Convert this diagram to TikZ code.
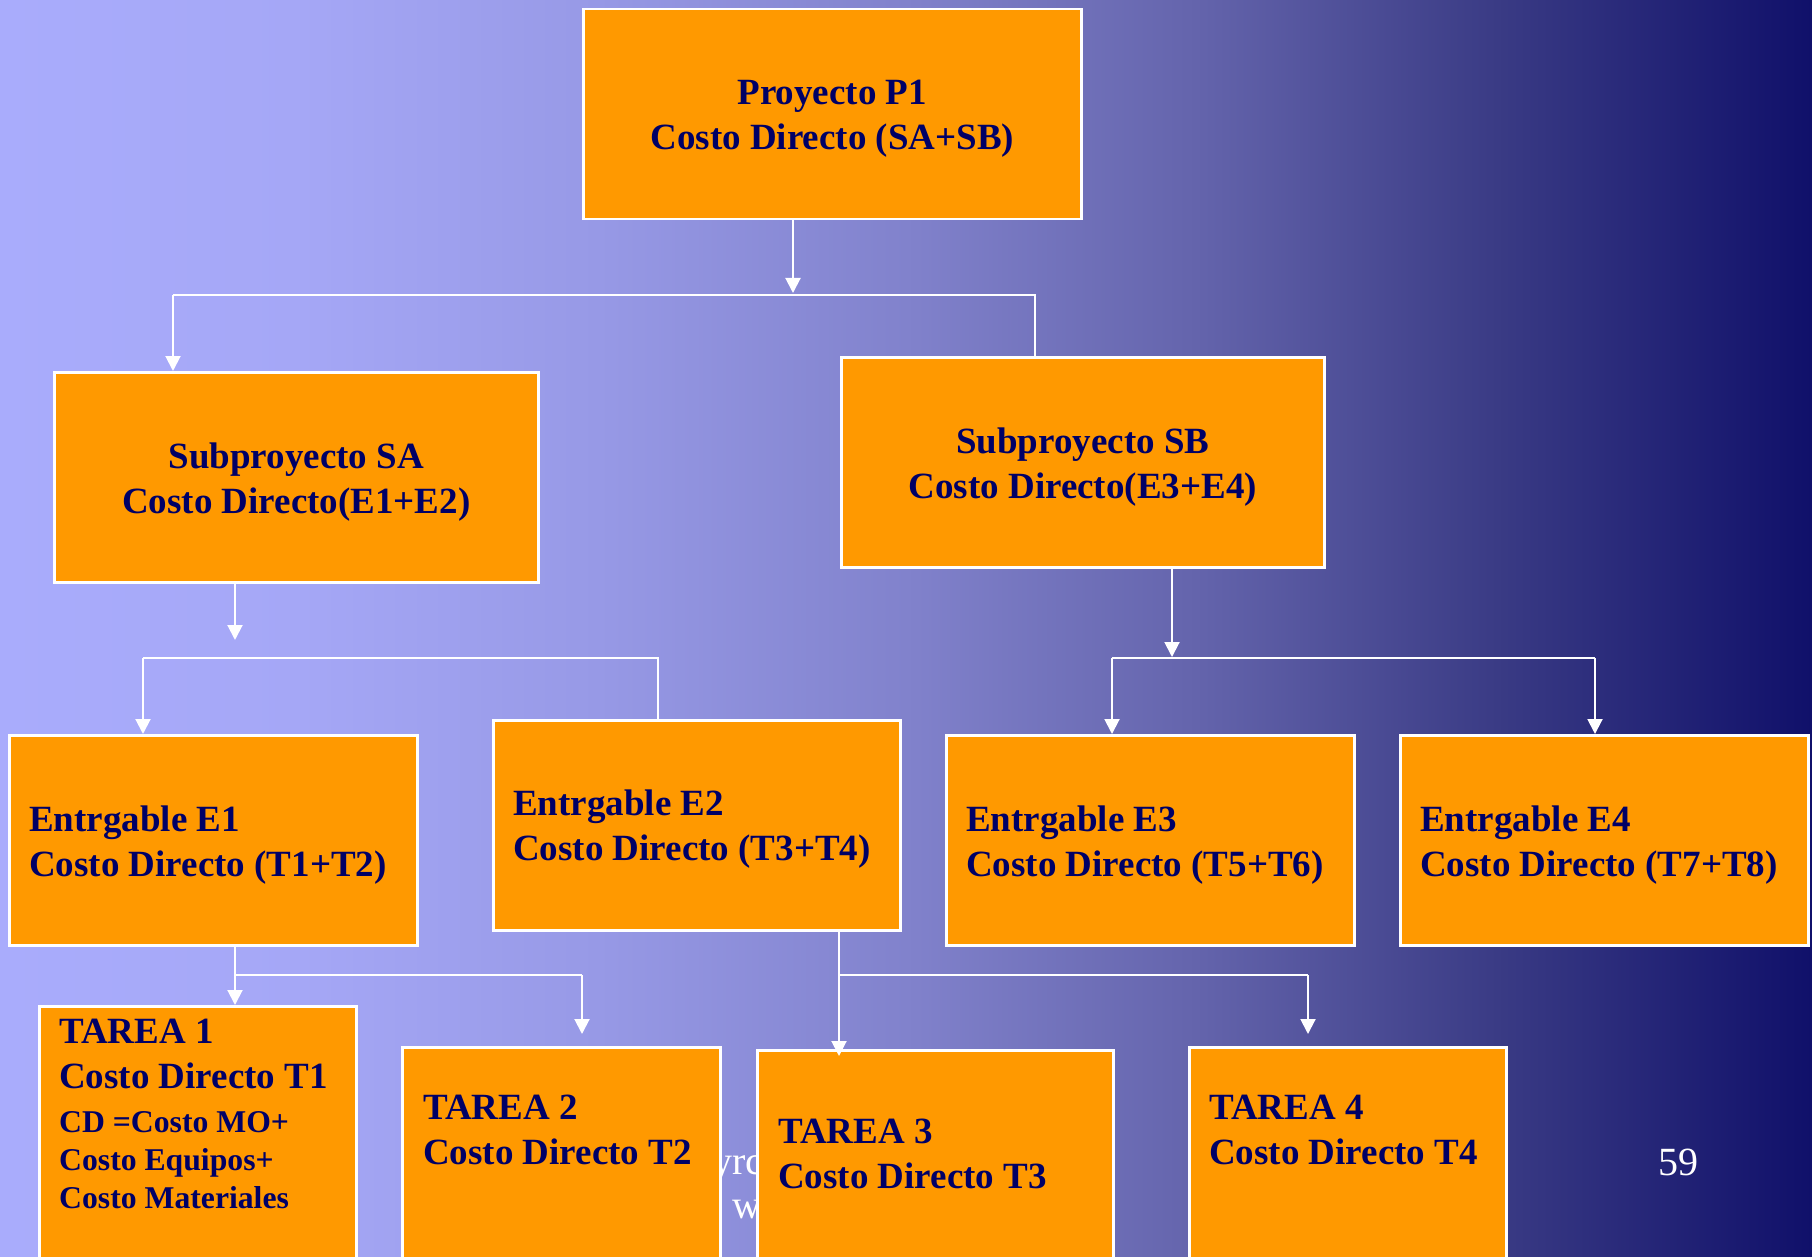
\documentclass[tikz,border=0pt]{standalone}
\usepackage{fontspec}
\setmainfont{Liberation Serif}
\usetikzlibrary{arrows.meta}

% palette
\definecolor{boxfill}{HTML}{FF9900}
\definecolor{ink}{HTML}{000066}
\definecolor{bgA}{HTML}{A9ACFC}
\definecolor{bgB}{HTML}{A5A7F6}
\definecolor{bgC}{HTML}{9799E6}
\definecolor{bgD}{HTML}{8182CC}
\definecolor{bgE}{HTML}{6464AC}
\definecolor{bgF}{HTML}{393A84}
\definecolor{bgG}{HTML}{10106A}

% a path is mapped onto the middle half (25bp--75bp) of a shading
\pgfdeclarehorizontalshading{slidebg}{100bp}{color(0bp)=(bgA); color(25bp)=(bgA); color(33.25bp)=(bgB); color(41.5bp)=(bgC); color(50bp)=(bgD); color(58bp)=(bgE); color(66.5bp)=(bgF); color(75bp)=(bgG); color(100bp)=(bgG)}

\newcommand\wbsbig{\fontsize{37}{45}\selectfont\bfseries}
\newcommand\wbssmall{\fontsize{31.7}{38}\selectfont\bfseries}

\tikzset{
  box/.style={draw=white, line width=2.5pt, fill=boxfill, anchor=north west,
    inner sep=0pt},
  tlabel/.style={anchor=north west, inner sep=0pt, text=ink, font=\wbsbig, align=left},
  clabel/.style={anchor=north, inner sep=0pt, text=ink, font=\wbsbig, align=center},
  foot/.style={inner sep=0pt, text=white, font=\fontsize{40}{48}\selectfont},
  wire/.style={draw=white, line width=2pt},
  tip/.style={-{Triangle[width=15pt,length=15pt]}},
}

\begin{document}
\begin{tikzpicture}[x=1pt,y=-1pt]
\useasboundingbox (0,0) rectangle (1812,1257);
\clip (0,0) rectangle (1812,1257);
\shade[shading=slidebg] (0,0) rectangle (1812,1257);

% footer text lying behind the task boxes
\node[foot, anchor=base west] (ftA) at (712,1174) {yrc};
\node[foot, anchor=base west] (ftB) at (732,1218) {w};
\node[foot] (pg) at (1678,1162) {59};

% boxes
\node[box, minimum width=498pt, minimum height=210pt] (p1) at (582,8) {};
\node[box, minimum width=484pt, minimum height=210pt] (sa) at (53,371) {};
\node[box, minimum width=483pt, minimum height=210pt] (sb) at (840,356) {};
\node[box, minimum width=408pt, minimum height=210pt] (e1) at (8,734) {};
\node[box, minimum width=407pt, minimum height=210pt] (e2) at (492,719) {};
\node[box, minimum width=408pt, minimum height=210pt] (e3) at (945,734) {};
\node[box, minimum width=408pt, minimum height=210pt] (e4) at (1399,734) {};
\node[box, minimum width=317pt, minimum height=280pt] (t1) at (38,1005) {};
\node[box, minimum width=318pt, minimum height=240pt] (t2) at (401,1046) {};
\node[box, minimum width=356pt, minimum height=240pt] (t3) at (756,1049) {};
\node[box, minimum width=317pt, minimum height=240pt] (t4) at (1188,1046) {};

% box texts
\node[clabel] (p1t) at (p1.north |- 0,80) {Proyecto P1\\Costo Directo (SA+SB)};
\node[clabel] (sat) at (sa.north |- 0,443) {Subproyecto SA\\Costo Directo(E1+E2)};
\node[clabel] (sbt) at (sb.north |- 0,428) {Subproyecto SB\\Costo Directo(E3+E4)};

\node[tlabel] (e1t) at (29,806) {Entrgable E1\\Costo Directo (T1+T2)};
\node[tlabel] (e2t) at (513,790) {Entrgable E2\\Costo Directo (T3+T4)};
\node[tlabel] (e3t) at (966,806) {Entrgable E3\\Costo Directo (T5+T6)};
\node[tlabel] (e4t) at (1420,806) {Entrgable E4\\Costo Directo (T7+T8)};

\node[tlabel, font=\wbssmall] (t1t) at (59,1019)
  {{\wbsbig TAREA 1}\\[7pt]{\wbsbig Costo Directo T1}\\[6pt]CD =Costo MO+\\Costo Equipos+\\Costo Materiales};
\node[tlabel] (t2t) at (423,1095) {TAREA 2\\Costo Directo T2};
\node[tlabel] (t3t) at (778,1119) {TAREA 3\\Costo Directo T3};
\node[tlabel] (t4t) at (1209,1095) {TAREA 4\\Costo Directo T4};

% junction points of the connectors
\coordinate (j1) at (793,293);
\coordinate (bA) at (173,295);
\coordinate (bB) at (1035,295);
\coordinate (k1) at (235,640);
\coordinate (cA) at (143,658);
\coordinate (cB) at (658,658);
\coordinate (k2) at (1172,657);
\coordinate (dA) at (1112,658);
\coordinate (dB) at (1595,658);
\coordinate (fA) at (235,975);
\coordinate (fB) at (582,975);
\coordinate (m2) at (582,1034);
\coordinate (gA) at (839,975);
\coordinate (gB) at (1308,975);
\coordinate (m3) at (839,1056);
\coordinate (m4) at (1308,1034);

% P1 -> SA, SB
\draw[wire, tip] (p1.south -| j1) -- (j1);
\draw[wire] (sb.north -| bB) -- (bB) -- (bA);
\draw[wire, tip] (bA) -- (bA |- sa.north);

% SA -> E1, E2
\draw[wire, tip] (sa.south -| k1) -- (k1);
\draw[wire] (e2.north -| cB) -- (cB) -- (cA);
\draw[wire, tip] (cA) -- (cA |- e1.north);

% SB -> E3, E4
\draw[wire, tip] (sb.south -| k2) -- (k2);
\draw[wire] (dA) -- (dB);
\draw[wire, tip] (dA) -- (dA |- e3.north);
\draw[wire, tip] (dB) -- (dB |- e4.north);

% E1 -> T1, T2
\draw[wire, tip] (e1.south -| fA) -- (fA |- t1.north);
\draw[wire] (fA) -- (fB);
\draw[wire, tip] (fB) -- (m2);

% E2 -> T3, T4
\draw[wire, tip] (e2.south -| gA) -- (m3);
\draw[wire] (gA) -- (gB);
\draw[wire, tip] (gB) -- (m4);
\end{tikzpicture}
\end{document}
